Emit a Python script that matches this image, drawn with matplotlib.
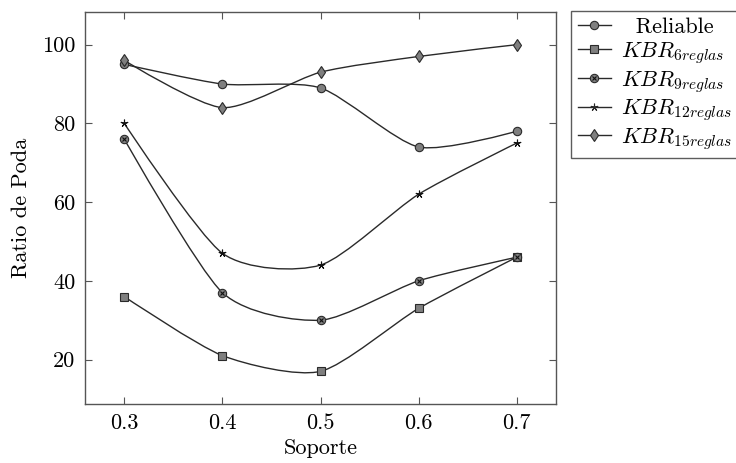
import matplotlib
matplotlib.use("Agg")
import matplotlib.pyplot as plt
from matplotlib.path import Path
from matplotlib.patches import PathPatch
from matplotlib.lines import Line2D
from matplotlib.legend_handler import HandlerTuple
import numpy as np

plt.rcParams['font.family'] = ['cmr10', 'DejaVu Serif']
plt.rcParams['mathtext.fontset'] = 'cm'
plt.rcParams['axes.formatter.use_mathtext'] = True

soporte = [0.3, 0.4, 0.5, 0.6, 0.7]
reliable = [95, 90, 89, 74, 78]
kbr6 = [36, 21, 17, 33, 46]
kbr9 = [76, 37, 30, 40, 46]
kbr12 = [80, 47, 44, 62, 75]
kbr15 = [96, 84, 93, 97, 100]
labels = ['  Reliable', r'$KBR_{6reglas}$', r'$KBR_{9reglas}$',
          r'$KBR_{12reglas}$', r'$KBR_{15reglas}$']
xticks = [0.3, 0.4, 0.5, 0.6, 0.7]
yticks = [20, 40, 60, 80, 100]

LINE = '#2a2a2a'
FILL = '#7f7f7f'
AX = '#555555'
FS = 16


def smooth_path(x, y, k=0.12):
    p = np.column_stack([x, y]).astype(float)
    n = len(p)
    verts = [p[0]]
    codes = [Path.MOVETO]
    for i in range(n - 1):
        t0 = (p[i + 1] - p[i - 1]) if i > 0 else np.zeros(2)
        t1 = (p[i + 2] - p[i]) if i + 2 < n else np.zeros(2)
        c1 = p[i] + k * t0
        c2 = p[i + 1] - k * t1
        verts += [c1, c2, p[i + 1]]
        codes += [Path.CURVE4] * 3
    return Path(verts, codes)


fig = plt.figure(figsize=(7.36, 4.63), dpi=100)
ax = fig.add_axes([0.1155, 0.1274, 0.640, 0.8467])

series = [reliable, kbr6, kbr9, kbr12, kbr15]
for ys in series:
    ax.add_patch(PathPatch(smooth_path(soporte, ys), fill=False,
                           edgecolor=LINE, lw=1.0, zorder=2))

ms = dict(color=LINE, mfc=FILL, mec=LINE, ls='none', zorder=3)
ax.plot(soporte, reliable, marker='o', ms=6, mew=0.8, **ms)
ax.plot(soporte, kbr6, marker='s', ms=5.5, mew=0.8, **ms)
ax.plot(soporte, kbr9, marker='o', ms=6, mew=0.8, **ms)
ax.plot(soporte, kbr9, marker='x', ms=3.5, mew=0.8, color='#111111', ls='none', zorder=4)
ax.plot(soporte, kbr12, marker=(5, 2, 0), ms=5.5, mew=0.8, color='#111111', ls='none', zorder=3)
ax.plot(soporte, kbr15, marker='d', ms=6, mew=0.8, **ms)

ax.set_xlim(0.26, 0.74)
ax.set_ylim(8.7, 108.3)
ax.set_xticks(xticks)
ax.set_xticklabels([f'{v:.1f}' for v in xticks])
ax.set_yticks(yticks)
ax.set_yticklabels([str(v) for v in yticks])
ax.tick_params(direction='in', length=5, width=0.8, color=AX,
               top=True, right=True, labelsize=FS, pad=7)
for s in ax.spines.values():
    s.set_color(AX)
    s.set_linewidth(1.0)
ax.set_xlabel('Soporte', fontsize=FS, labelpad=4)
ax.set_ylabel('Ratio de Poda', fontsize=FS, labelpad=8)

lk = dict(color=LINE, mfc=FILL, mec=LINE, lw=1.0)
h_rel = Line2D([], [], marker='o', ms=6, mew=0.8, **lk)
h6 = Line2D([], [], marker='s', ms=5.5, mew=0.8, **lk)
h9a = Line2D([], [], marker='o', ms=6, mew=0.8, **lk)
h9b = Line2D([], [], marker='x', ms=3.5, mew=0.8, color='#111111', ls='none')
h12 = Line2D([], [], marker=(5, 2, 0), ms=5.5, mew=0.8, color=LINE, lw=1.0)
h15 = Line2D([], [], marker='d', ms=6, mew=0.8, **lk)
leg = fig.legend([h_rel, h6, (h9a, h9b), h12, h15], labels,
                 handler_map={tuple: HandlerTuple(ndivide=1)},
                 loc='upper left', bbox_to_anchor=(0.7758, 0.9762),
                 fontsize=FS, frameon=True, fancybox=False,
                 edgecolor='#333333', handlelength=1.5, handletextpad=0.45,
                 borderpad=0.3, labelspacing=0.12, borderaxespad=0)
leg.get_frame().set_linewidth(1.0)

fig.savefig('out.png', dpi=100)
